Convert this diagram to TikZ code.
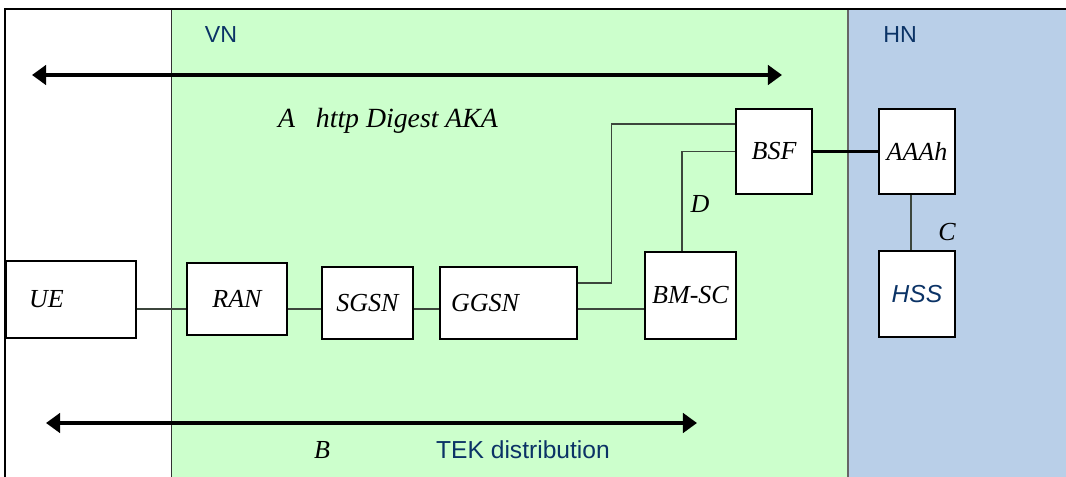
\documentclass[tikz,border=0pt]{standalone}
\usepackage{fontspec}
\setmainfont{Liberation Serif}
\setsansfont{Liberation Sans}
\usetikzlibrary{arrows.meta}

\begin{document}
\begin{tikzpicture}[x=0.02cm, y=-0.02cm,
  netbox/.style={draw, fill=white, line width=0.8pt, inner sep=0pt,
    font=\itshape\fontsize{14.8}{17}\selectfont},
  link/.style={draw=linkgray, line width=0.6pt},
  bigarrow/.style={line width=2.2pt,
    {Triangle[length=8pt,width=11pt]}-{Triangle[length=8pt,width=11pt]}},
  ifname/.style={font=\itshape\fontsize{14.8}{17}\selectfont},
  netname/.style={text=netblue, font=\sffamily\fontsize{13.2}{15}\selectfont}]

  % --- Farben ---
  \definecolor{vngreen}{HTML}{CCFFCC}  % besuchtes Netz
  \definecolor{hnblue}{HTML}{B9CFE8}   % Heimatnetz
  \definecolor{netblue}{HTML}{0B3366}  % Beschriftung VN/HN
  \definecolor{linkgray}{HTML}{3C463C} % Verbindungen

  \useasboundingbox (0,0) rectangle (1066,477);

  % --- Bereiche ---
  \fill[vngreen] (171,9) rectangle (848,477);
  \fill[hnblue] (848,9) rectangle (1066,477);
  \draw[line width=0.5pt, black!80] (171,9) -- (171,477);
  \draw[line width=0.9pt, black!60] (848,9) -- (848,477);
  \draw[line width=1.6pt] (5,477) -- (5,9) -- (1066,9);

  \node[netname] (vn) at (221,35) {VN};
  \node[netname] (hn) at (900,35) {HN};

  % --- Knoten ---
  \node[netbox, minimum width=2.6cm, minimum height=1.54cm,
        text width=1.68cm, align=left] (ue) at (71,299.5) {UE};
  \node[netbox, minimum width=2cm, minimum height=1.44cm] (ran) at (237,299) {RAN};
  \node[netbox, minimum width=1.82cm, minimum height=1.44cm] (sgsn) at (367.5,303) {SGSN};
  \node[netbox, minimum width=2.74cm, minimum height=1.44cm,
        text width=2.3cm, align=left] (ggsn) at (508.5,303) {GGSN};
  \node[netbox, minimum width=1.82cm, minimum height=1.74cm] (bmsc) at (690.5,295.5) {BM-SC};
  \node[netbox, minimum width=1.52cm, minimum height=1.7cm] (bsf) at (774,151.5) {BSF};
  \node[netbox, minimum width=1.52cm, minimum height=1.7cm] (aaah) at (917,151.5) {AAAh};
  \node[netbox, minimum width=1.52cm, minimum height=1.72cm,
        text=netblue, font=\sffamily\itshape\fontsize{14}{16}\selectfont] (hss) at (917,294) {HSS};

  % --- Verbindungen ---
  \draw[link] (ue.east |- 0,309) -- (ran.west |- 0,309);
  \draw[link] (ran.east |- 0,309) -- (sgsn.west |- 0,309);
  \draw[link] (sgsn.east |- 0,309) -- (ggsn.west |- 0,309);
  \draw[link] (ggsn.east |- 0,309) -- (bmsc.west |- 0,309);
  \draw[link] (ggsn.east |- 0,283) -- ++(34,0) |- (bsf.west |- 0,124);
  \draw[link] (bmsc.north -| 682,0) |- (bsf.west);
  \draw[line width=1.7pt] (bsf.east) -- (aaah.west);
  \draw[link] (aaah.south -| 911,0) -- (hss.north -| 911,0);

  % --- Schnittstellen ---
  \coordinate (aL) at (32,75);
  \coordinate (aR) at (782,75);
  \coordinate (bL) at (46,423);
  \coordinate (bR) at (697,423);
  \draw[bigarrow] (aL) -- (aR);
  \draw[bigarrow] (bL) -- (bR);

  \node[ifname, font=\itshape\fontsize{15.8}{18}\selectfont] (ia) at (388,121)
    {A\hspace{0.5em} http Digest AKA};
  \node[ifname] (ib) at (322,450) {B};
  \node[netname, font=\sffamily\fontsize{14}{16}\selectfont] (tek) at (523,450) {TEK distribution};
  \node[ifname] (ic) at (947,232) {C};
  \node[ifname] (id) at (700,204) {D};

\end{tikzpicture}
\end{document}
